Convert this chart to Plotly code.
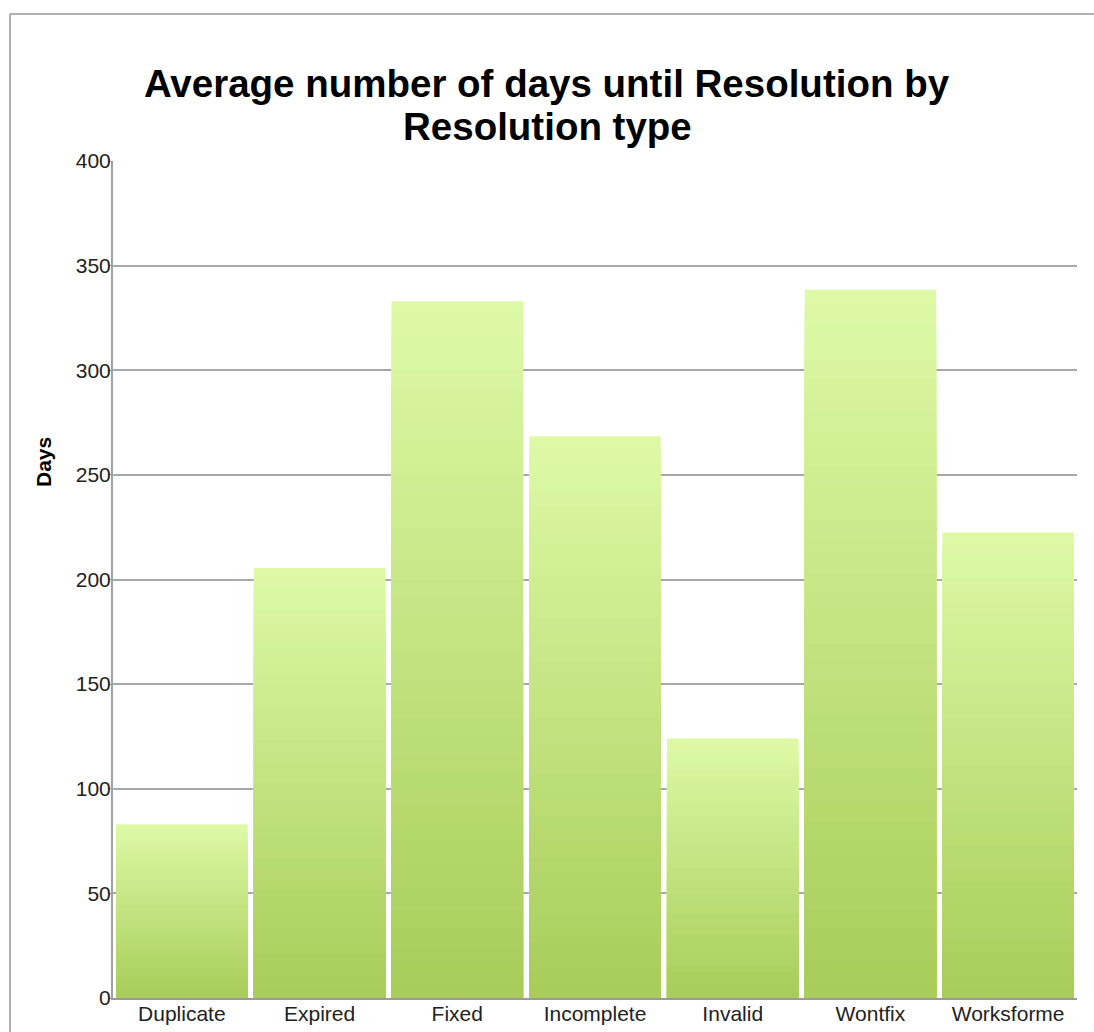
import plotly.graph_objects as go

categories = ["Duplicate", "Expired", "Fixed", "Incomplete", "Invalid", "Wontfix", "Worksforme"]
avg_days = [83, 205.5, 333, 268.5, 124, 338.5, 222.5]
y_ticks = [0, 50, 100, 150, 200, 250, 300, 350, 400]
title_lines = ["Average number of days until Resolution by", "Resolution type"]
y_title = "Days"

TOP = (221, 249, 166)
BOTTOM = (168, 205, 90)
STEPS = 40

W, H = 1094, 1032
L, R, T, B = 113, 17, 161, 34
PW, PH = W - L - R, H - T - B


def px_x(px):
    return (px - L) / PW


def px_y(py):
    return (H - B - py) / PH


fig = go.Figure()
# gradient: overlay bars from tallest (light) to shortest (dark)
for k in range(STEPS):
    frac = 1 - k / STEPS
    t = k / (STEPS - 1)
    col = tuple(round(TOP[i] + (BOTTOM[i] - TOP[i]) * t) for i in range(3))
    fig.add_trace(go.Bar(
        x=categories,
        y=[v * frac for v in avg_days],
        marker=dict(color="rgb(%d,%d,%d)" % col, line=dict(width=0)),
        showlegend=False,
        hoverinfo="skip" if k else None,
    ))

annotations = [
    dict(text="<b>%s</b>" % title_lines[0], x=px_x(547), y=px_y(83), xref="paper", yref="paper",
         xanchor="center", yanchor="middle", showarrow=False,
         font=dict(size=38.5, color="black")),
    dict(text="<b>%s</b>" % title_lines[1], x=px_x(547), y=px_y(127), xref="paper", yref="paper",
         xanchor="center", yanchor="middle", showarrow=False,
         font=dict(size=38.5, color="black")),
    dict(text="<b>%s</b>" % y_title, x=px_x(43), y=px_y(462), xref="paper", yref="paper",
         xanchor="center", yanchor="middle", showarrow=False, textangle=-90,
         font=dict(size=21, color="black")),
]

fig.update_layout(
    width=W, height=H,
    barmode="overlay",
    bargap=0.045,
    paper_bgcolor="white",
    plot_bgcolor="white",
    margin=dict(l=L, r=R, t=T, b=B, autoexpand=False),
    font=dict(family="Liberation Sans, Arial, sans-serif", color="#111"),
    xaxis=dict(
        showline=True, linecolor="#9a9a9a", linewidth=2,
        ticks="", tickfont=dict(size=21, color="#222"),
        ticklabelstandoff=-4,
        showgrid=False, automargin=False,
    ),
    yaxis=dict(
        range=[0, 400],
        tickvals=y_ticks,
        showline=True, linecolor="#a0a0a0", linewidth=2,
        ticks="outside", ticklen=3, tickcolor="#a0a0a0",
        ticklabelstandoff=-7,
        tickfont=dict(size=21, color="#222"),
        showgrid=True, gridcolor="#a8a8a8", gridwidth=1.5,
        zeroline=False, automargin=False,
    ),
    annotations=annotations,
    shapes=[
        dict(type="line", xref="paper", yref="paper",
             x0=px_x(10), x1=px_x(1100), y0=px_y(14), y1=px_y(14),
             line=dict(color="#b0b0b0", width=2)),
        dict(type="line", xref="paper", yref="paper",
             x0=px_x(10), x1=px_x(10), y0=px_y(14), y1=px_y(1040),
             line=dict(color="#b0b0b0", width=2)),
    ],
)

fig.write_html("out.html")
